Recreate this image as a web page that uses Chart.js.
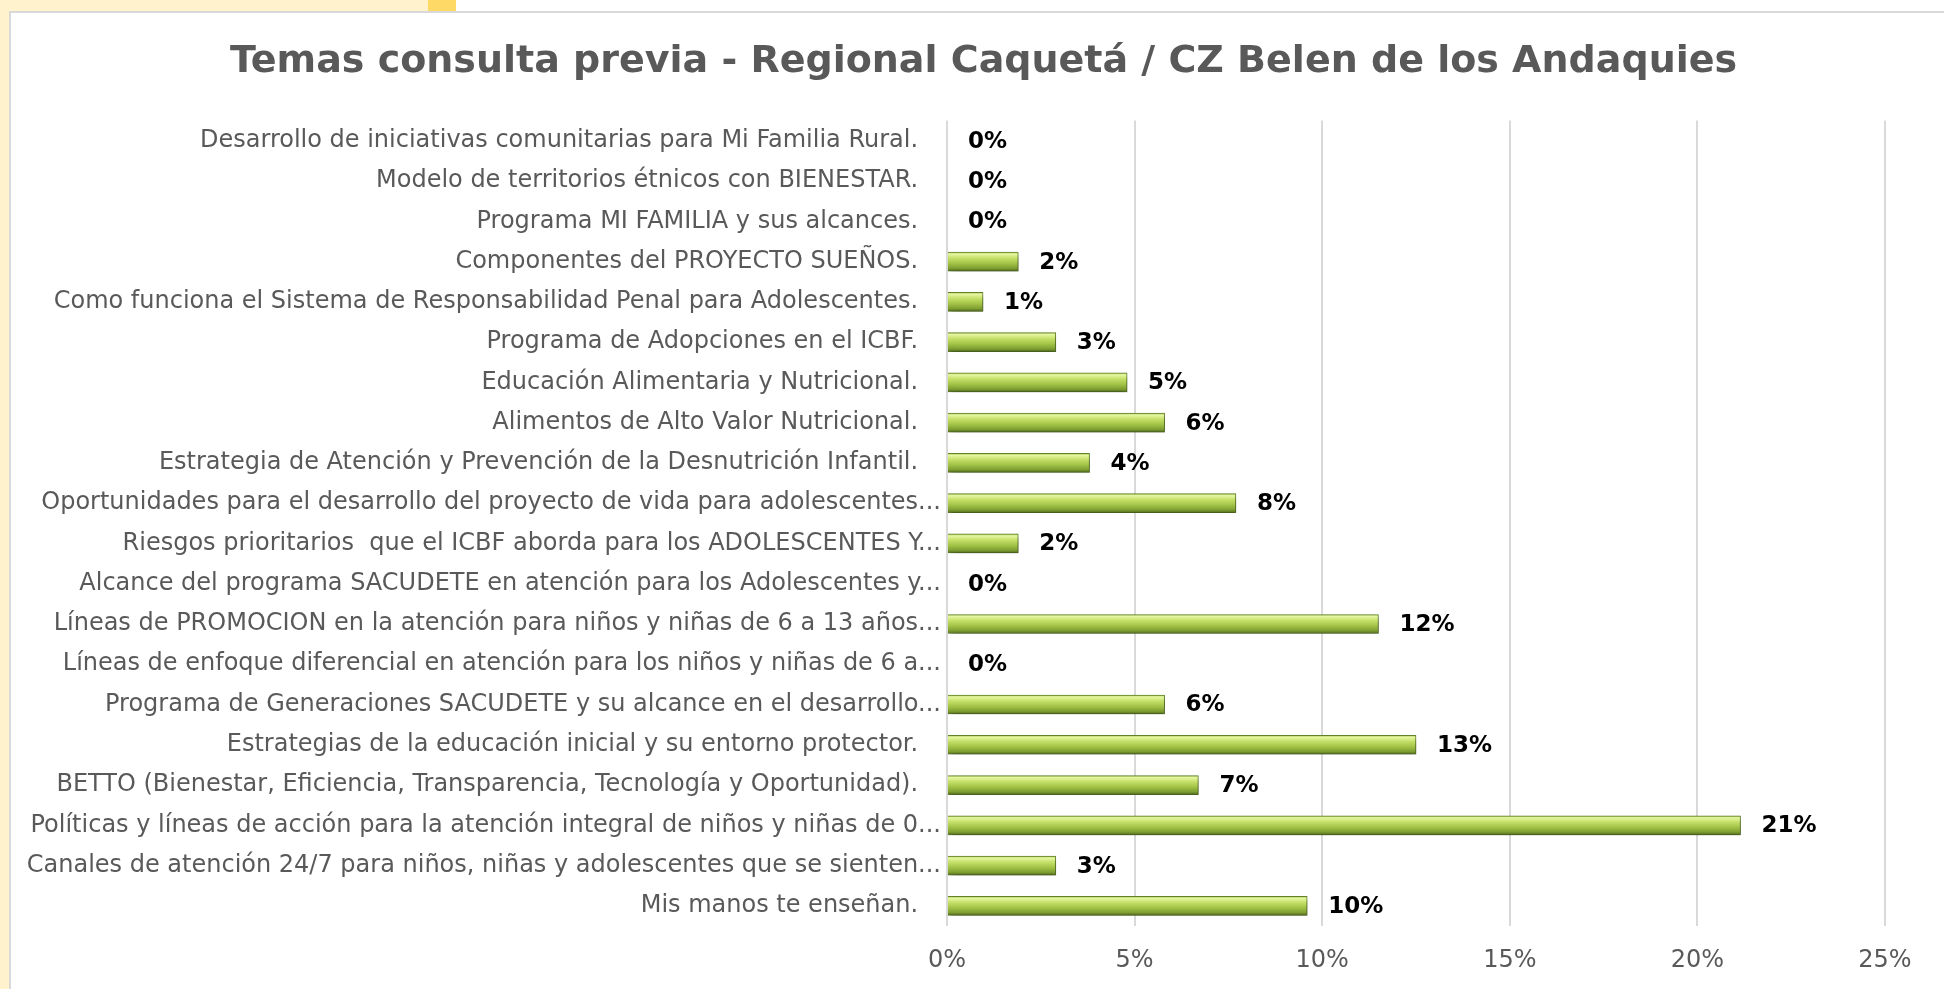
<!DOCTYPE html>
<html>
<head>
<meta charset="utf-8">
<script src="https://cdn.jsdelivr.net/npm/chart.js@4/dist/chart.umd.min.js"></script>
<style>
  html, body { margin: 0; padding: 0; background: #fff; overflow: hidden; }
  .wrap { position: relative; width: 1944px; height: 989px; }
  .strip-top { position: absolute; left: 0; top: 0; width: 428px; height: 11px; background: #fff2cc; }
  .strip-top-dark { position: absolute; left: 428px; top: 0; width: 28px; height: 11px; background: #ffd966; }
  .strip-left { position: absolute; left: 0; top: 0; width: 9px; height: 989px; background: #fff2cc; }
  .frame { position: absolute; left: 9px; top: 11px; width: 1960px; height: 1000px; border: 2px solid #d9d9d9; box-sizing: border-box; }
  canvas { position: absolute; left: 0; top: 0; }
</style>
</head>
<body>
<div class="wrap">
  <div class="strip-top"></div>
  <div class="strip-top-dark"></div>
  <div class="strip-left"></div>
  <div class="frame"></div>
  <canvas id="chart" width="1944" height="989"></canvas>
</div>
<script>
// Chart data (top to bottom as in the picture)
const chartTitle = 'Temas consulta previa - Regional Caquetá / CZ Belen de los Andaquies';

const categories = [
    'Desarrollo de iniciativas comunitarias para Mi Familia Rural.',
    'Modelo de territorios étnicos con BIENESTAR.',
    'Programa MI FAMILIA y sus alcances.',
    'Componentes del PROYECTO SUEÑOS.',
    'Como funciona el Sistema de Responsabilidad Penal para Adolescentes.',
    'Programa de Adopciones en el ICBF.',
    'Educación Alimentaria y Nutricional.',
    'Alimentos de Alto Valor Nutricional.',
    'Estrategia de Atención y Prevención de la Desnutrición Infantil.',
    'Oportunidades para el desarrollo del proyecto de vida para adolescentes...',
    'Riesgos prioritarios  que el ICBF aborda para los ADOLESCENTES Y...',
    'Alcance del programa SACUDETE en atención para los Adolescentes y...',
    'Líneas de PROMOCION en la atención para niños y niñas de 6 a 13 años...',
    'Líneas de enfoque diferencial en atención para los niños y niñas de 6 a...',
    'Programa de Generaciones SACUDETE y su alcance en el desarrollo...',
    'Estrategias de la educación inicial y su entorno protector.',
    'BETTO (Bienestar, Eficiencia, Transparencia, Tecnología y Oportunidad).',
    'Políticas y líneas de acción para la atención integral de niños y niñas de 0...',
    'Canales de atención 24/7 para niños, niñas y adolescentes que se sienten...',
    'Mis manos te enseñan.'
];

// share of consultations
const shares = [
    0, 0, 0, 0.019, 0.0096, 0.029, 0.048, 0.058, 0.038, 0.077,
    0.019, 0, 0.115, 0, 0.058, 0.125, 0.067, 0.2115, 0.029, 0.096
];

const xTicks = [0, 0.05, 0.10, 0.15, 0.20, 0.25];

const pct = v => Math.round(v * 100) + '%';

const BAR_H = 19;

// bevelled green fill, one gradient per bar
function barFill(context) {
    const chart = context.chart;
    const yScale = chart.scales.y;
    if (!chart.chartArea || !yScale) return '#a9c94c';
    const yc = yScale.getPixelForValue(context.dataIndex);
    const g = chart.ctx.createLinearGradient(0, yc - BAR_H / 2, 0, yc + BAR_H / 2);
    g.addColorStop(0, '#a3c24a');
    g.addColorStop(0.1, '#e6f7a4');
    g.addColorStop(0.3, '#c8e26c');
    g.addColorStop(0.6, '#a2c346');
    g.addColorStop(0.85, '#7f9f32');
    g.addColorStop(1, '#526c1c');
    return g;
}

const barShadow = {
    id: 'barShadow',
    beforeDatasetDraw(chart) {
        const c = chart.ctx;
        c.save();
        c.shadowColor = 'rgba(0,0,0,0.35)';
        c.shadowBlur = 6;
        c.shadowOffsetX = 2;
        c.shadowOffsetY = 4;
    },
    afterDatasetDraw(chart) {
        chart.ctx.restore();
    }
};

// long category names reach past the layout padding, so widen the label clip box
const wideLabels = {
    id: 'wideLabels',
    afterLayout(chart) {
        chart.scales.y.left = 0;
    }
};

const valueLabels = {
    id: 'valueLabels',
    afterDatasetsDraw(chart) {
        const c = chart.ctx;
        const meta = chart.getDatasetMeta(0);
        c.save();
        c.font = 'bold 23px "DejaVu Sans"';
        c.fillStyle = '#000';
        c.textAlign = 'left';
        c.textBaseline = 'middle';
        meta.data.forEach((bar, i) => {
            c.fillText(pct(shares[i]), bar.x + 21, bar.y + 1);
        });
        c.restore();
    }
};

new Chart(document.getElementById('chart'), {
    type: 'bar',
    data: {
        labels: categories,
        datasets: [{
            data: shares,
            backgroundColor: barFill,
            borderColor: '#66852a',
            borderWidth: 1,
            barThickness: BAR_H
        }]
    },
    options: {
        indexAxis: 'y',
        responsive: false,
        devicePixelRatio: 1,
        animation: false,
        layout: { padding: { left: 82, right: 59, top: 0, bottom: 0 } },
        plugins: {
            legend: { display: false },
            tooltip: { enabled: false },
            title: {
                display: true,
                text: chartTitle,
                color: '#595959',
                font: { family: '"DejaVu Sans"', size: 38, weight: 'bold', lineHeight: 1.2 },
                padding: { top: 39, bottom: 36 }
            }
        },
        scales: {
            x: {
                min: 0,
                max: 0.25,
                afterBuildTicks: scale => { scale.ticks = xTicks.map(v => ({ value: v })); },
                afterFit: scale => { scale.height = 63; },
                grid: { color: '#d9d9d9', lineWidth: 2, drawTicks: false },
                border: { display: false },
                ticks: {
                    color: '#595959',
                    padding: 20,
                    font: { family: '"DejaVu Sans"', size: 24 },
                    callback: v => pct(v)
                }
            },
            y: {
                afterFit: scale => { scale.width = 865; },
                grid: { display: false, drawTicks: false },
                border: { display: false },
                ticks: {
                    color: '#595959',
                    padding: 6,
                    autoSkip: false,
                    font: { family: '"DejaVu Sans"', size: 24 },
                    callback: function (v) {
                        const s = this.getLabelForValue(v);
                        return s.endsWith('...') ? s : s + '   ';
                    }
                }
            }
        }
    },
    plugins: [barShadow, wideLabels, valueLabels]
});
</script>
</body>
</html>
